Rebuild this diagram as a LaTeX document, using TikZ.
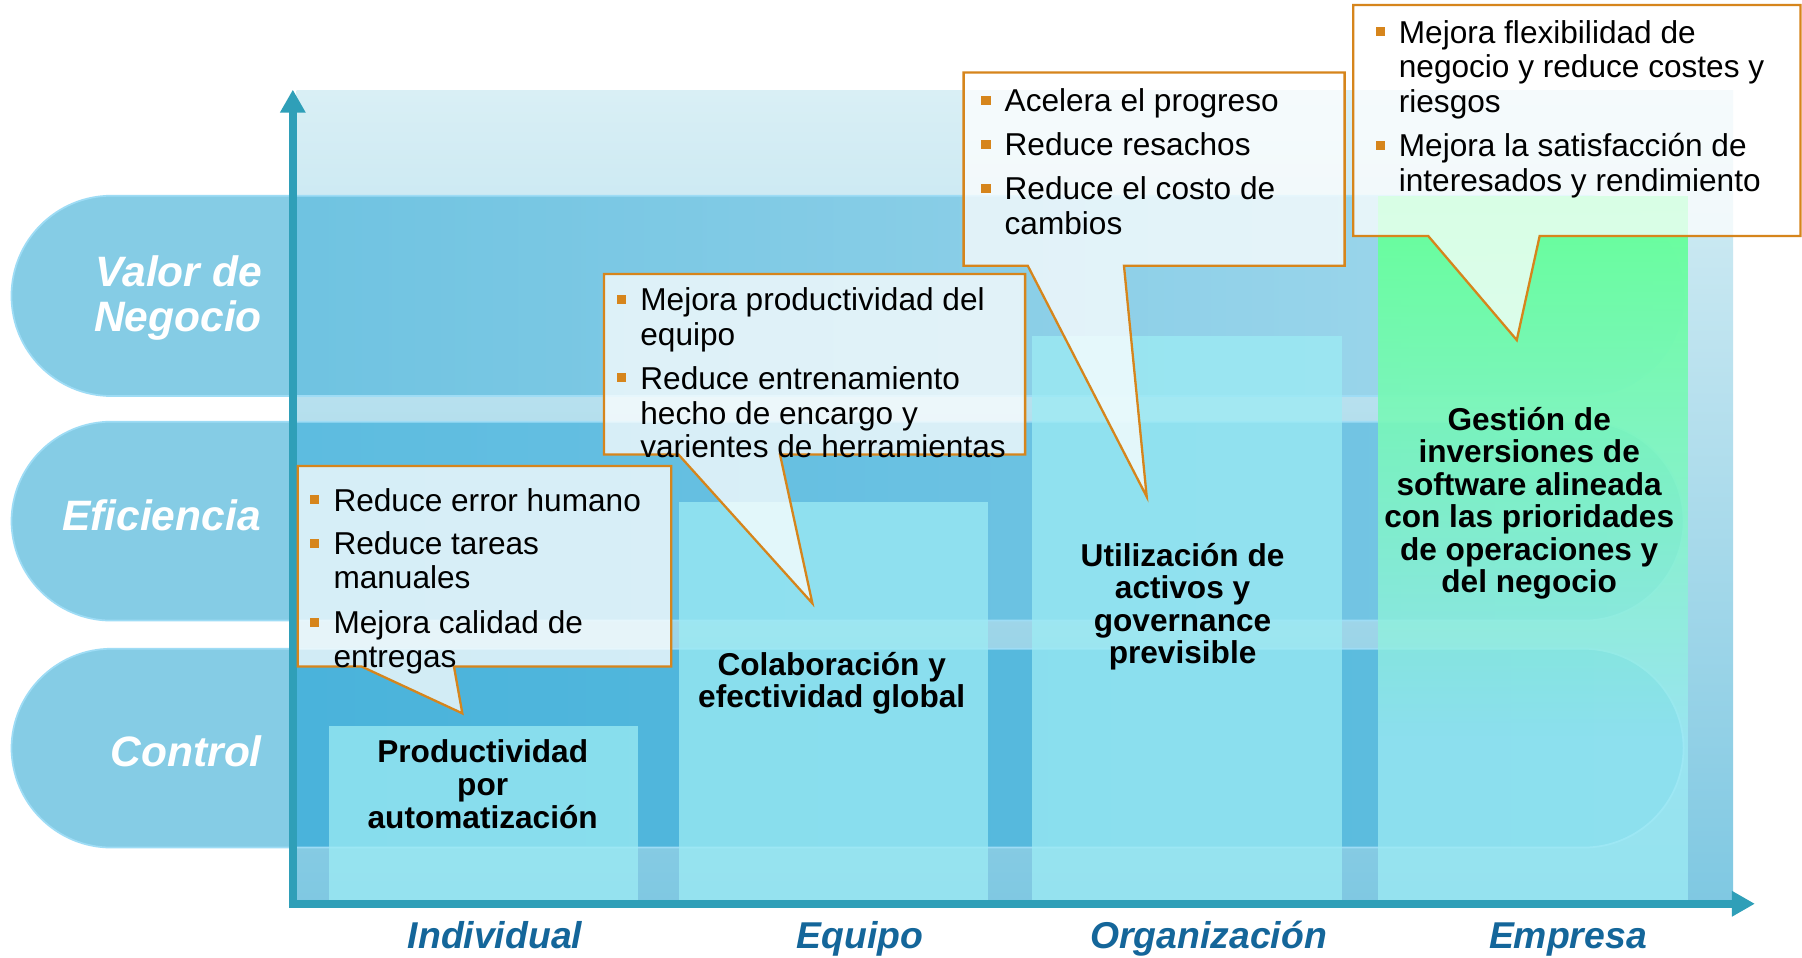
\documentclass[tikz,border=0pt]{standalone}
\usepackage{fontspec}
\setmainfont{Liberation Sans}
\usetikzlibrary{arrows.meta,fadings}
\definecolor{axisc}{HTML}{2F9FB8}
\definecolor{orangec}{HTML}{D6851C}
\definecolor{pillout}{HTML}{85CCE5}
\definecolor{pillline}{HTML}{9EDCF5}
\definecolor{bgtop}{HTML}{D9EFF5}
\definecolor{bgbot}{HTML}{7FC8E2}
\definecolor{colc}{HTML}{9DECF4}
\definecolor{greenc}{HTML}{66FF99}
\definecolor{axlab}{HTML}{14669A}
\definecolor{vL}{HTML}{6FC3E1}\definecolor{vR}{HTML}{A4D9ED}
\definecolor{eL}{HTML}{5DBCE0}\definecolor{eR}{HTML}{78C7E4}
\definecolor{cL}{HTML}{4AB3DB}\definecolor{cR}{HTML}{61BFDF}
\tikzfading[name=greenfade, top color=transparent!0, middle color=transparent!30, bottom color=transparent!100]
\tikzset{
  rowlab/.style={text=white, inner sep=0pt, anchor=base east, font=\fontsize{37}{40}\selectfont\bfseries\itshape},
  axlabst/.style={text=axlab, inner sep=0pt, anchor=base, font=\fontsize{32.5}{36}\selectfont\bfseries\itshape},
  collab/.style={text=black, inner sep=0pt, anchor=base, font=\fontsize{27.5}{29}\selectfont\bfseries},
  ctext/.style={text=black, inner sep=0pt, anchor=base west, font=\fontsize{27.5}{30}\selectfont},
  bul/.style={rectangle, fill=orangec, minimum size=8pt, inner sep=0pt},
  callout/.style={fill=white, fill opacity=.75, draw=orangec, line width=2pt, line join=miter},
  colbox/.style={fill=colc, fill opacity=.74},
  axisline/.style={draw=axisc, line width=6.5pt, -{Triangle[length=20pt,width=21pt]}}
}
\begin{document}
\begin{tikzpicture}[x=1pt,y=-1pt]
\useasboundingbox (0,0) rectangle (1568,833);
\fill[white] (0,0) rectangle (1568,833);
% chart background
\shade[top color=bgtop, bottom color=bgbot] (258,79) rectangle (1508,786);
% bands (pills)
\foreach \ta/\tb/\cl/\cr in {170.3/344.6/vL/vR, 366.9/540/eL/eR, 564.5/737.5/cL/cR}{
  \fill[pillout, rounded corners=87pt] (10,\ta) rectangle (1465,\tb);
  \begin{scope}
    \clip[rounded corners=87pt] (10,\ta) rectangle (1465,\tb);
    \shade[left color=\cl, right color=\cr] (258,\ta) rectangle (1465,\tb);
  \end{scope}
  \draw[pillline, line width=1.5pt, rounded corners=87pt] (10,\ta) rectangle (1465,\tb);
}
% columns
\fill[colbox] (286.3,631.8) rectangle (554.9,784);
\fill[colbox] (590.9,436.8) rectangle (859.5,784);
\fill[colbox] (898.3,292.4) rectangle (1167.3,784);
\fill[colbox] (1198.8,170.3) rectangle (1468.6,784);
\fill[greenc, path fading=greenfade] (1198.8,170.3) rectangle (1468.6,640);
% axes
\coordinate (O) at (254.8,786.4);
\coordinate (Ob) at (254.8,789.7);
\coordinate (Ol) at (251.6,786.4);
\coordinate (Ytip) at (254.8,78);
\coordinate (Xtip) at (1527,786.4);
\draw[axisline] (Ob) -- (Ytip);
\draw[axisline] (Ol) -- (Xtip);
% row labels
\node[rowlab] (rv1) at (228,248.9) {Valor de};
\node[rowlab] (rv2) at (228,288.6) {Negocio};
\node[rowlab] (re) at (227,461.8) {Eficiencia};
\node[rowlab] (rc) at (228,667.1) {Control};
% axis labels
\node[axlabst] (ax1) at (430.7,825.2) {Individual};
\node[axlabst] (ax2) at (748.5,825.2) {Equipo};
\node[axlabst] (ax3) at (1051.7,825.2) {Organización};
\node[axlabst] (ax4) at (1364.3,825.2) {Empresa};
% column labels
\node[collab] (k1a) at (420,663.7) {Productividad};
\node[collab] (k1b) at (420,692.2) {por};
\node[collab] (k1c) at (420,720.8) {automatización};
\node[collab] (k2a) at (723.7,587.4) {Colaboración y};
\node[collab] (k2b) at (723.7,615.5) {efectividad global};
\foreach \yy/\txt [count=\i] in {492.5/Utilización de, 520.9/activos y, 549.3/governance, 577.7/previsible}
  \node[collab] (k3\i) at (1029,\yy) {\txt};
\foreach \yy/\txt [count=\i] in {374.2/Gestión de, 402.5/inversiones de, 430.8/software alineada, 459.1/con las prioridades, 487.4/de operaciones y, 515.7/del negocio}
  \node[collab] (k4\i) at (1330.6,\yy) {\txt};
% callouts
\path[callout] (259,405.5) -- (584,405.5) -- (584,580) -- (395,580) -- (402.3,620.7) -- (314.7,580) -- (259,580) -- cycle;
\path[callout] (525.6,238.4) -- (892,238.4) -- (892,395.4) -- (678.7,395.4) -- (706.9,525) -- (590.3,395.4) -- (525.6,395.4) -- cycle;
\path[callout] (838.5,63) -- (1170,63) -- (1170,231.2) -- (978,231.2) -- (997.8,432.2) -- (894.3,231.2) -- (838.5,231.2) -- cycle;
\path[callout] (1177.5,4.4) -- (1566.7,4.4) -- (1566.7,205.4) -- (1339.7,205.4) -- (1319.8,295.9) -- (1242.8,205.4) -- (1177.5,205.4) -- cycle;
% callout texts
\foreach \yy/\txt [count=\i] in {444.7/Reduce error humano, 482.8/Reduce tareas, 512.5/manuales, 551.4/Mejora calidad de, 581/entregas}
  \node[ctext] (ta\i) at (290,\yy) {\txt};
\foreach \yy [count=\i] in {444.7,482.8,551.4}
  \node[bul] (ba\i) at (274,\yy-10) {};
\foreach \yy/\txt [count=\i] in {270.3/Mejora productividad del, 300.2/equipo, 338.8/Reduce entrenamiento, 369.3/hecho de encargo y, 398/varientes de herramientas}
  \node[ctext] (tb\i) at (557,\yy) {\txt};
\foreach \yy [count=\i] in {270.3,338.8}
  \node[bul] (bb\i) at (541,\yy-10) {};
\foreach \yy/\txt [count=\i] in {97.2/Acelera el progreso, 135.5/Reduce resachos, 174/Reduce el costo de, 203.9/cambios}
  \node[ctext] (tc\i) at (874,\yy) {\txt};
\foreach \yy [count=\i] in {97.2,135.5,174}
  \node[bul] (bc\i) at (858,\yy-10) {};
\foreach \yy/\txt [count=\i] in {37.7/Mejora flexibilidad de, 67.7/negocio y reduce costes y, 97.5/riesgos, 136.3/Mejora la satisfacción de, 166.3/interesados y rendimiento}
  \node[ctext] (td\i) at (1217,\yy) {\txt};
\foreach \yy [count=\i] in {37.7,136.3}
  \node[bul] (bd\i) at (1201,\yy-10) {};
\end{tikzpicture}
\end{document}
